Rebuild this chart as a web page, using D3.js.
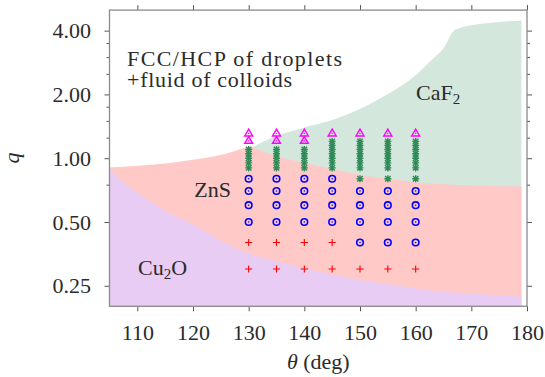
<!DOCTYPE html>
<html>
<head>
<meta charset="utf-8">
<script src="https://cdn.jsdelivr.net/npm/d3@7"></script>
<style>
  html, body { margin: 0; padding: 0; background: #fff; }
  svg { display: block; }
  text { font-family: "Liberation Serif", "Times New Roman", Times, serif; fill: #2b2b2b; }
</style>
</head>
<body>
<svg id="chart" width="545" height="377"></svg>
<script>
// ---------- data ----------
const xTicks = [110, 120, 130, 140, 150, 160, 170, 180];
const yTicks = [0.25, 0.5, 1, 2, 4];
const yTickLabels = ["0.25", "0.50", "1.00", "2.00", "4.00"];
const yMinorTicks = [0.75, 1.25, 1.5, 1.75, 2.5, 3, 3.5];

// Cu2O / ZnS boundary
const cuTheta = [105, 107.5, 110, 115, 120, 125, 130, 135, 140, 145, 150, 155, 160, 165, 170, 175, 179];
const cuQ     = [0.890, 0.765, 0.687, 0.565, 0.486, 0.408, 0.355, 0.325, 0.302, 0.283, 0.266, 0.254, 0.243, 0.234, 0.229, 0.225, 0.222];
// ZnS upper boundary
const znTheta = [105, 110, 115, 120, 125, 130.5, 132.5, 135, 140, 145, 150, 155, 160, 165, 170, 175, 179];
const znQ     = [0.903, 0.920, 0.945, 0.982, 1.036, 1.124, 1.076, 1.025, 0.950, 0.890, 0.835, 0.799, 0.770, 0.753, 0.743, 0.738, 0.735];
// CaF2 upper boundary
const caTheta = [130.5, 135, 140, 145, 150, 155, 160, 163, 165, 166.9, 168, 170, 173, 176, 179];
const caQ     = [1.124, 1.273, 1.396, 1.514, 1.706, 2.007, 2.465, 2.93, 3.30, 4.01, 4.12, 4.24, 4.35, 4.42, 4.47];

// simulation points [theta, q]
const plusPts = [[130,0.3],[135,0.3],[140,0.3],[145,0.3],[150,0.3],[155,0.3],[160,0.3],
                 [130,0.4],[135,0.4],[140,0.4],[145,0.4]];
const circlePts = [[150,0.4],[155,0.4],[160,0.4],
                   [130,0.5],[135,0.5],[140,0.5],[145,0.5],[150,0.5],[155,0.5],[160,0.5],
                   [130,0.6],[135,0.6],[140,0.6],[145,0.6],[150,0.6],[155,0.6],[160,0.6],
                   [130,0.7],[135,0.7],[140,0.7],[145,0.7],[150,0.7],[155,0.7],[160,0.7],
                   [130,0.8],[135,0.8],[140,0.8],[145,0.8]];
const starPts = [[130,0.9],[130,0.95],[130,1.0],[130,1.05],[130,1.1],
                 [135,0.9],[135,0.95],[135,1.0],[135,1.05],[135,1.1],
                 [140,0.9],[140,0.95],[140,1.0],[140,1.05],[140,1.1],
                 [145,0.9],[145,0.95],[145,1.0],[145,1.05],[145,1.1],[145,1.15],[145,1.2],
                 [150,0.8],[150,0.9],[150,0.95],[150,1.0],[150,1.05],[150,1.1],[150,1.15],[150,1.2],
                 [155,0.8],[155,0.9],[155,0.95],[155,1.0],[155,1.05],[155,1.1],[155,1.15],[155,1.2],
                 [160,0.8],[160,0.9],[160,0.95],[160,1.0],[160,1.05],[160,1.1],[160,1.15],[160,1.2]];
const trianglePts = [[130,1.2],[130,1.3],[135,1.2],[135,1.3],[140,1.2],[140,1.3],
                     [145,1.3],[150,1.3],[155,1.3],[160,1.3]];

// ---------- layout ----------
const svg = d3.select("#chart");
const L = 109.5, R = 527, T = 10.1, B = 306.3;
const x = d3.scaleLinear().domain([105, 180]).range([L, R]);
const y = d3.scaleLog().domain([0.2, 5]).range([B, T]);

const colGreen = "#d3e7dc", colPink = "#fec9c6", colPurple = "#e8ccf4";

function region(thetas, qs, color) {
  const pts = thetas.map((t, i) => [t, qs[i]]);
  const area = d3.area()
    .x(d => x(d[0]))
    .y0(y(0.2))
    .y1(d => y(d[1]))
    .curve(d3.curveMonotoneX);
  svg.append("path").attr("d", area(pts)).attr("fill", color).attr("stroke", "none");
}
region(caTheta, caQ, colGreen);
region(znTheta, znQ, colPink);
region(cuTheta, cuQ, colPurple);

// ---------- frame & axes ----------
const tickCol = "#555";
function styleAxis(g) {
  g.attr("font-family", null);
  g.select(".domain").remove();
  g.selectAll(".tick line").attr("stroke", tickCol).attr("stroke-width", 1);
  g.selectAll(".tick text").style("font-family", '"Liberation Serif", "Times New Roman", serif').style("font-size", "22px").attr("fill", "#2b2b2b");
}
svg.append("g").attr("transform", `translate(0,${B})`)
  .call(d3.axisBottom(x).tickValues(xTicks).tickSize(5).tickPadding(13).tickFormat(d3.format("d")))
  .call(styleAxis);
svg.append("g").attr("transform", `translate(0,${T})`)
  .call(d3.axisTop(x).tickValues(xTicks).tickSize(5).tickFormat(""))
  .call(styleAxis);
svg.append("g").attr("transform", `translate(${L},0)`)
  .call(d3.axisLeft(y).tickValues(yTicks).tickSize(5).tickPadding(13.5).tickFormat((d, i) => yTickLabels[i]))
  .call(styleAxis);
svg.append("g").attr("transform", `translate(${R},0)`)
  .call(d3.axisRight(y).tickValues(yTicks).tickSize(5).tickFormat(""))
  .call(styleAxis);
svg.append("g").attr("transform", `translate(${L},0)`)
  .call(d3.axisLeft(y).tickValues(yMinorTicks).tickSize(3).tickFormat(""))
  .call(styleAxis);
svg.append("g").attr("transform", `translate(${R},0)`)
  .call(d3.axisRight(y).tickValues(yMinorTicks).tickSize(3).tickFormat(""))
  .call(styleAxis);

svg.append("rect").attr("x", L).attr("y", T).attr("width", R - L).attr("height", B - T)
  .attr("fill", "none").attr("stroke", "#8a8a8a").attr("stroke-width", 1.3);

// ---------- markers ----------
const mk = svg.append("g");
mk.selectAll(".plus").data(plusPts).join("path")
  .attr("transform", d => `translate(${x(d[0])},${y(d[1])})`)
  .attr("d", "M-3.6,0H3.6M0,-3.6V3.6")
  .attr("stroke", "#ff0000").attr("stroke-width", 1.1).attr("fill", "none");

const cg = mk.selectAll(".circ").data(circlePts).join("g")
  .attr("transform", d => `translate(${x(d[0])},${y(d[1])})`);
cg.append("circle").attr("r", 3.3).attr("fill", "none").attr("stroke", "#0000ff").attr("stroke-width", 1.6);
cg.append("circle").attr("r", 0.8).attr("fill", "#0000ff");

mk.selectAll(".star").data(starPts).join("path")
  .attr("transform", d => `translate(${x(d[0])},${y(d[1])})`)
  .attr("d", "M-3.5,0H3.5M0,-3.5V3.5M-2.7,-2.7L2.7,2.7M-2.7,2.7L2.7,-2.7")
  .attr("stroke", "#2e8b57").attr("stroke-width", 1.4).attr("fill", "none");

const tg = mk.selectAll(".tri").data(trianglePts).join("g")
  .attr("transform", d => `translate(${x(d[0])},${y(d[1])})`);
tg.append("path").attr("d", "M0,-4.9L4,1.9L-4,1.9Z")
  .attr("fill", "none").attr("stroke", "#ff00ff").attr("stroke-width", 1.4);
tg.append("circle").attr("cy", -0.6).attr("r", 0.7).attr("fill", "#ff00ff");

// ---------- labels ----------
const fs = 22;
svg.append("text").attr("x", 127).attr("y", 66).style("font-size", fs + "px").attr("textLength", 215).text("FCC/HCP of droplets");
svg.append("text").attr("x", 127).attr("y", 87).style("font-size", fs + "px").attr("textLength", 165).text("+fluid of colloids");

const ca = svg.append("text").attr("x", 416).attr("y", 100).style("font-size", fs + "px");
ca.append("tspan").text("CaF");
ca.append("tspan").attr("dy", 4).style("font-size", "15px").text("2");

svg.append("text").attr("x", 231).attr("y", 197).attr("text-anchor", "end").style("font-size", fs + "px").text("ZnS");

const cu = svg.append("text").attr("x", 138).attr("y", 275).style("font-size", fs + "px");
cu.append("tspan").text("Cu");
cu.append("tspan").attr("dy", 4).style("font-size", "15px").text("2");
cu.append("tspan").attr("dy", -4).text("O");

const xl = svg.append("text").attr("x", (L + R) / 2).attr("y", 369).attr("text-anchor", "middle").style("font-size", fs + "px");
xl.append("tspan").style("font-style", "italic").text("θ");
xl.append("tspan").text(" (deg)");

svg.append("text").attr("transform", "translate(19,158) rotate(-90)").attr("text-anchor", "middle")
  .style("font-size", fs + "px").style("font-style", "italic").text("q");
</script>
</body>
</html>
